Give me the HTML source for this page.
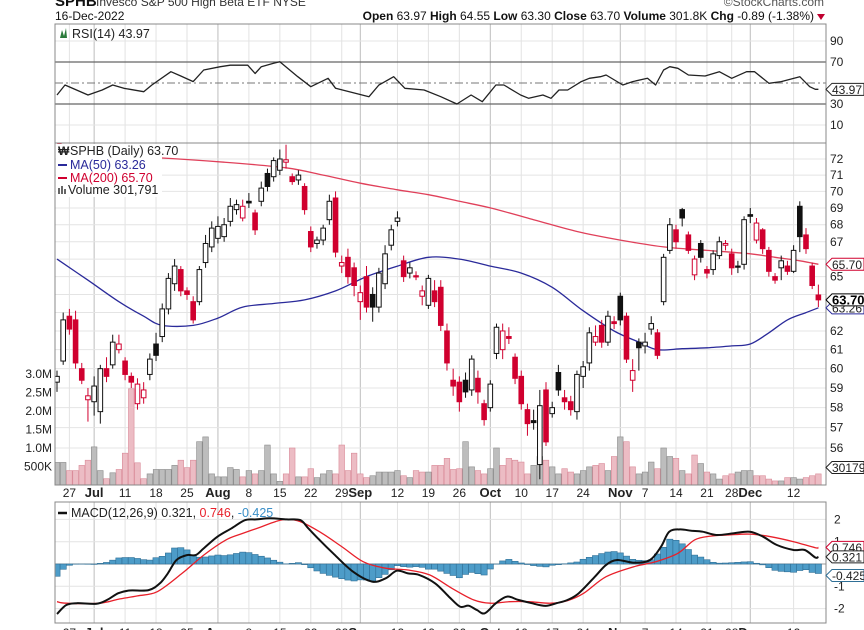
<!DOCTYPE html>
<html><head><meta charset="utf-8"><style>
html,body{margin:0;padding:0;background:#fff;}
svg{display:block;font-family:"Liberation Sans",sans-serif;}
</style></head><body>
<svg id="chart" width="864" height="630" viewBox="0 0 864 630" xmlns="http://www.w3.org/2000/svg">
<defs>
<clipPath id="cpPrice"><rect x="55" y="143" width="771" height="342"/></clipPath>
<clipPath id="cpRsi"><rect x="55" y="24" width="771" height="119"/></clipPath>
<clipPath id="cpMacd"><rect x="55" y="502" width="771" height="121"/></clipPath>
</defs>
<g>
<text x="55" y="6" font-size="15" font-weight="bold" fill="#111">SPHB</text>
<text x="96" y="6" font-size="12" fill="#333">Invesco S&amp;P 500 High Beta ETF   NYSE</text>
<text x="824" y="6" font-size="12" fill="#555" text-anchor="end">©StockCharts.com</text>
</g>
<text x="55" y="20" font-size="12" fill="#111">16-Dec-2022</text>
<text x="814" y="20" font-size="12" fill="#111" text-anchor="end"><tspan font-weight="bold">Open</tspan> 63.97  <tspan font-weight="bold">High</tspan> 64.55  <tspan font-weight="bold">Low</tspan> 63.30  <tspan font-weight="bold">Close</tspan> 63.70  <tspan font-weight="bold">Volume</tspan> 301.8K  <tspan font-weight="bold">Chg</tspan> -0.89 (-1.38%)</text>
<path d="M817 14 L825 14 L821 20 Z" fill="#c0002f"/>
<g id="grid"></g>
<g id="rsiG" clip-path="url(#cpRsi)"></g>
<g id="priceG" clip-path="url(#cpPrice)"></g>
<g id="macdG" clip-path="url(#cpMacd)"></g>
<g id="frames"></g>
<g id="labels"></g>
</svg>
<script>
const NS="http://www.w3.org/2000/svg";
const opens=[59.3,60.4,62.8,62.6,60.0,58.4,58.3,57.8,60.0,60.2,61.0,60.4,59.6,58.2,58.5,59.7,61.3,61.7,63.2,64.6,65.4,64.2,63.6,63.6,65.8,66.7,67.2,67.3,68.2,68.9,68.4,69.4,68.7,69.4,71.1,70.9,71.3,71.8,70.9,70.7,70.3,67.6,66.9,67.1,68.3,69.6,65.6,66.1,65.5,63.6,65.0,64.0,63.3,64.6,66.8,68.2,65.9,65.2,65.05,63.9,63.4,64.2,64.4,62.0,59.4,59.3,59.4,58.9,59.5,58.2,58.0,60.8,61.0,61.7,60.6,59.6,57.9,57.35,55.2,58.9,57.7,59.8,58.5,58.3,57.8,59.6,60.3,61.4,62.3,61.4,62.5,63.9,62.8,59.4,61.4,61.2,62.1,61.9,63.6,66.5,67.7,68.9,67.4,65.1,66.9,65.4,65.4,66.2,66.8,66.3,65.6,65.7,68.6,67.1,67.7,66.5,65.0,65.5,65.6,65.3,69.1,67.4,65.6,63.97];
const closes=[59.6,62.6,62.1,60.3,59.4,58.6,59.1,60.0,59.6,61.4,61.3,59.7,59.3,59.2,58.9,60.5,60.7,63.2,64.9,65.6,64.2,64.0,62.6,65.4,66.9,67.8,67.9,68.0,69.1,69.2,69.1,69.3,67.7,70.2,70.3,71.9,72.0,71.95,70.6,71.0,68.9,66.7,67.1,67.8,69.4,66.4,65.8,65.0,64.5,64.1,63.3,63.3,65.2,66.3,67.7,68.4,65.0,65.5,65.0,64.2,64.9,63.6,62.3,60.3,59.1,58.3,58.8,60.5,58.8,57.4,59.2,62.2,62.0,61.6,59.5,58.2,57.2,57.25,58.1,56.3,58.0,58.9,58.3,57.9,59.7,60.1,61.9,61.7,61.4,62.8,62.4,62.6,60.5,59.9,61.1,61.4,62.4,60.7,66.1,68.0,67.0,68.4,66.5,66.0,66.1,65.2,66.3,67.0,66.9,65.5,65.55,68.3,68.5,68.1,66.6,65.3,64.8,65.9,65.3,66.5,67.3,66.6,64.5,63.70];
const highs=[59.9,63.0,63.2,63.1,60.3,59.0,59.6,60.2,60.6,61.8,61.8,60.6,59.8,59.5,59.3,60.8,61.9,63.5,65.2,66.0,65.6,64.4,63.9,65.6,67.4,68.2,68.5,68.4,69.6,69.5,69.5,69.9,68.9,70.6,71.4,72.1,72.6,72.9,71.1,71.3,70.5,67.9,67.3,68.0,69.8,70.0,66.2,66.6,65.8,64.5,65.6,64.4,65.5,66.8,68.0,68.8,66.2,65.8,65.3,64.5,65.1,64.8,64.8,62.4,60.0,59.6,59.8,60.7,59.9,58.4,59.4,62.4,62.4,62.2,60.8,59.9,58.2,57.9,58.9,59.3,58.3,60.2,58.9,58.6,59.9,60.4,62.2,62.3,62.6,63.1,62.8,64.1,63.0,60.5,61.6,61.9,62.8,62.1,66.3,68.4,68.0,69.0,67.6,66.2,67.1,65.6,66.5,67.3,67.1,66.6,65.9,68.5,69.0,68.4,67.8,66.7,65.2,66.2,65.9,66.8,69.4,67.8,65.8,64.55];
const lows=[58.8,60.2,61.8,60.0,59.2,57.3,57.6,57.2,59.3,60.0,60.8,59.4,59.0,57.9,58.2,59.4,60.4,61.4,62.9,64.2,63.9,63.7,62.4,63.4,65.5,66.4,66.9,67.0,67.9,68.6,68.2,69.0,67.4,69.1,70.0,70.6,71.0,71.4,70.4,70.4,68.6,66.4,66.6,66.8,68.0,66.1,65.2,64.6,63.9,62.6,63.0,62.5,63.0,64.3,66.5,67.9,64.7,64.9,64.8,63.4,63.2,63.3,62.0,59.9,58.6,57.8,58.5,58.6,58.2,57.1,57.8,60.5,60.5,61.3,59.2,57.9,56.6,56.9,54.5,56.1,57.5,58.6,57.9,57.6,57.4,59.0,59.9,61.2,61.1,61.2,62.1,62.3,60.3,58.8,59.9,60.8,61.8,60.5,63.4,66.3,66.6,67.9,66.3,64.8,65.8,64.9,65.1,66.0,66.5,65.1,65.2,65.4,68.1,66.9,66.3,65.0,64.6,64.8,65.1,65.2,66.4,66.3,64.3,63.30];
const volumes=[0.61,0.61,0.39,0.39,0.53,0.67,1.03,0.39,0.17,0.33,0.42,0.86,2.6,0.6,0.17,0.3,0.42,0.42,0.42,0.53,0.67,0.47,0.67,1.17,1.3,0.3,0.22,0.22,0.47,0.42,0.22,0.39,0.3,0.39,1.08,0.3,0.1,0.3,1.0,0.22,0.22,0.44,0.2,0.3,0.39,0.3,1.08,0.39,0.86,0.3,0.2,0.25,0.35,0.35,0.35,0.39,0.25,0.2,0.39,0.35,0.35,0.53,0.53,0.72,0.42,0.44,1.17,0.49,0.39,0.3,0.44,1.0,0.53,0.72,0.67,0.62,0.3,0.53,0.77,0.67,0.49,0.3,0.44,0.35,0.3,0.39,0.49,0.53,0.58,0.39,0.77,1.3,1.17,0.49,0.3,0.35,0.62,0.44,1.0,0.77,0.72,0.39,0.3,0.81,0.58,0.35,0.3,0.16,0.25,0.3,0.35,0.39,0.39,0.25,0.25,0.16,0.11,0.11,0.2,0.2,0.16,0.2,0.25,0.30];
const ma50Idx=[0,5,10,14,17,22,26,30,35,40,45,50,55,60,65,70,75,80,85,90,94,97,101,105,109,112,115,118,121,123];
const ma50Val=[66.0,64.8,63.6,62.8,62.3,62.3,62.7,63.3,63.5,63.7,64.2,65.0,65.6,66.1,66.0,65.6,65.2,64.4,63.1,62.0,61.4,61.0,61.05,61.1,61.2,61.3,61.9,62.6,63.0,63.26];
const ma200Idx=[0,8,17,27,37,43,49,55,60,65,70,77,84,91,98,105,112,116,120,123];
const ma200Val=[73.0,72.2,72.06,71.8,71.45,71.0,70.5,70.1,69.8,69.4,69.0,68.3,67.6,67.1,66.7,66.5,66.3,66.1,65.9,65.70];
const rsiIdx=[0,1.3,5,7.3,9,10.8,14,15.3,18.4,20,22,23.7,26.4,28,30.8,32,33,35,36,38.9,41,43.8,45,50.4,52,54.4,56.2,59.3,62,64.6,66.9,68.7,70.9,72.2,74.9,76.2,78.5,79.8,81.1,82.5,84.7,86,87.8,88.7,91.4,93,95.4,96.7,98,99,100.3,102,104.7,107,109,111.4,112.7,115,117,120,121.6,122.5,123];
const rsiVal=[38.6,48.1,38.6,43.3,48.1,45,41.7,48,60.8,56.7,51.3,62.4,65.5,67,67,59,65.5,68.8,70.3,56,46.5,54.5,45,37,48.1,56,45,43.3,37,30,38.6,32.2,48.1,48.1,38.6,35.4,38.6,35.4,43.3,43.3,51.3,54.5,56,57.6,48.1,51.3,54.5,48.1,62.4,65.5,64,57.6,56.7,60.8,54.5,60.8,60.8,49.7,51.3,56,46.5,44,43.97];
const macdIdx=[0,1.5,3.2,6.4,8.1,9.9,11.7,14.8,16.6,17.9,19.3,21,22.4,23.7,25.9,28.2,30.4,32.2,34.4,37.1,39.3,40.6,42.4,44.6,47.8,50.9,53.1,54.9,56.7,58.5,61.1,63.3,65.1,66.5,67.8,69.1,70.9,72.7,74.5,76.7,78.9,80.7,82.5,84.3,86.9,88.7,90.5,93.2,95.8,97.6,98.9,100.7,102.5,104.3,106.5,109.2,111.9,114.1,116.3,119,120.8,122.5,123];
const macdVal=[-2.24,-1.84,-1.76,-1.78,-1.61,-1.31,-1.19,-1.17,-0.87,-0.42,0.18,0.40,0.40,0.70,1.22,1.60,1.97,2.0,2.05,2.0,1.97,1.60,1.08,0.48,-0.34,-0.79,-0.64,-0.30,-0.42,-0.49,-0.87,-1.46,-1.91,-1.87,-2.06,-2.21,-1.76,-1.46,-1.61,-1.76,-1.88,-1.76,-1.61,-1.31,-0.57,-0.04,0.18,0.06,0.18,0.78,1.45,1.55,1.49,1.45,1.30,1.37,1.45,1.22,0.85,0.63,0.63,0.29,0.321];
const sigIdx=[0,1.5,6.8,9.9,13,16.2,20.2,23.7,27.3,30,32.6,35.3,37.1,39.3,42.4,46,49.5,53.1,56.7,60.2,63.8,67.3,70,73.1,76.2,79.8,82.5,85.1,88.7,93.2,96.7,100.3,103,105.6,108.3,111.9,115.4,119,122.5,123];
const sigVal=[-1.69,-1.76,-1.76,-1.58,-1.43,-1.24,-0.42,0.40,1.08,1.37,1.63,1.90,2.0,1.90,1.45,0.78,0.10,-0.19,-0.27,-0.49,-1.09,-1.61,-1.76,-1.69,-1.69,-1.76,-1.64,-1.31,-0.57,-0.12,0.10,0.48,1.08,1.25,1.30,1.34,1.22,1.00,0.73,0.746];
const dateIdx=[2,6,11,16,21,26,31,36,41,46,49,55,60,65,70,75,80,85,91,95,100,105,109,112,119];
const dateLbl=["27","Jul","11","18","25","Aug","8","15","22","29","Sep","12","19","26","Oct","10","17","24","Nov","7","14","21","28","Dec","12"];
const monthLbl=["Jul","Aug","Sep","Oct","Nov","Dec"];
const priceTicks=[72,71,70,69,68,67,65,62,61,60,59,58,57,56];
const priceGrid=[56,57,58,59,60,61,62,63,64,65,66,67,68,69,70,71,72];
const volTicks=[3.0,2.5,2.0,1.5,1.0,0.5];
const volTickLbl=["3.0M","2.5M","2.0M","1.5M","1.0M","500K"];
const rsiTicks=[90,70,30,10];
const macdTicks=[2,1,-1,-2];

const xi=i=>57+6.19*i;
const py=p=>159+1150*Math.log(72/p);
const vy=v=>485-37*v;
const ry=r=>83-1.05*(r-50);
const my=m=>564-22.3*m;
const RED="#d0002f";
function mk(tag,attrs,parent){const e=document.createElementNS(NS,tag);for(const k in attrs)e.setAttribute(k,attrs[k]);parent.appendChild(e);return e;}
function interp(ix,iv,i){if(i<=ix[0])return iv[0];for(let k=1;k<ix.length;k++){if(i<=ix[k]){const t=(i-ix[k-1])/(ix[k]-ix[k-1]);return iv[k-1]+t*(iv[k]-iv[k-1]);}}return iv[iv.length-1];}
function line(ix,iv,yf,parent,color,w,name,smooth){
  const P=ix.map((v,k)=>[xi(v),yf(iv[k])]);
  let d="M"+P[0][0].toFixed(1)+" "+P[0][1].toFixed(1);
  for(let k=1;k<P.length;k++){
    if(!smooth){d+="L"+P[k][0].toFixed(1)+" "+P[k][1].toFixed(1);continue;}
    const p0=P[Math.max(0,k-2)],p1=P[k-1],p2=P[k],p3=P[Math.min(P.length-1,k+1)];
    const c1=[p1[0]+(p2[0]-p0[0])/6,p1[1]+(p2[1]-p0[1])/6],c2=[p2[0]-(p3[0]-p1[0])/6,p2[1]-(p3[1]-p1[1])/6];
    d+="C"+c1[0].toFixed(1)+" "+c1[1].toFixed(1)+" "+c2[0].toFixed(1)+" "+c2[1].toFixed(1)+" "+p2[0].toFixed(1)+" "+p2[1].toFixed(1);
  }
  const p=mk("path",{d:d,fill:"none",stroke:color,"stroke-width":w,"stroke-linejoin":"round"},parent);
  
  
  return p;
}
const grid=document.getElementById("grid");
dateIdx.forEach((d,k)=>{
  const isM=monthLbl.includes(dateLbl[k]);
  [[24,143],[143,485],[502,623]].forEach(r=>{
    const l=mk("line",{x1:xi(d),x2:xi(d),y1:r[0],y2:r[1],stroke:isM?"#bdbdbd":"#e2e2e2","stroke-width":1},grid);
    
    
  });
});
priceGrid.forEach(p=>{const l=mk("line",{x1:55,x2:826,y1:py(p),y2:py(p),stroke:"#e4e4e4"},grid);
  
  });
[90,10].forEach(r=>{const l=mk("line",{x1:55,x2:826,y1:ry(r),y2:ry(r),stroke:"#e4e4e4"},grid);
  
  });
[2,1,-1,-2].forEach(m=>{const l=mk("line",{x1:55,x2:826,y1:my(m),y2:my(m),stroke:"#e4e4e4"},grid);
  
  });

const rg=document.getElementById("rsiG");
[70,30].forEach(r=>{const l=mk("line",{x1:55,x2:826,y1:ry(r),y2:ry(r),stroke:"#666","stroke-width":1.2},rg);
  
  });
const mid=mk("line",{x1:55,x2:826,y1:ry(50),y2:ry(50),stroke:"#777","stroke-dasharray":"8 3 2 3"},rg);


line(rsiIdx,rsiVal,ry,rg,"#222",1.3,"rsi-line",false);

const pg=document.getElementById("priceG");
volumes.forEach((v,i)=>{
  const up=i===0||closes[i]>=closes[i-1];
  const r=mk("rect",{x:xi(i)-2.8,y:vy(v),width:5.6,height:485-vy(v),fill:up?"#bdbdbd":"#ecbcc4",stroke:up?"#8a8a8a":"#d98a98","stroke-width":0.6},pg);
  
  
});
line(ma200Idx,ma200Val,py,pg,"#e0405a",1.3,"ma200-line",true);
line(ma50Idx,ma50Val,py,pg,"#2a2a9a",1.3,"ma50-line",true);
closes.forEach((c,i)=>{
  const o=opens[i];const down=i>0&&c<closes[i-1];const col=down?RED:"#111";
  const w=mk("line",{x1:xi(i),x2:xi(i),y1:py(highs[i]),y2:py(lows[i]),stroke:col,"stroke-width":1},pg);
  
  
  const top=py(Math.max(o,c)),bot=py(Math.min(o,c));
  const b=mk("rect",{x:xi(i)-2.3,y:top,width:4.6,height:Math.max(1.2,bot-top),fill:c<o?col:"#fff",stroke:col,"stroke-width":1},pg);
  
  
});

const mg=document.getElementById("macdG");
const z=mk("line",{x1:55,x2:826,y1:my(0),y2:my(0),stroke:"#999"},mg);


for(let i=0;i<closes.length;i++){
  const h=interp(macdIdx,macdVal,i)-interp(sigIdx,sigVal,i);
  const y0=my(0),y1=my(h);
  const r=mk("rect",{x:xi(i)-3.1,y:Math.min(y0,y1),width:6.2,height:Math.abs(y1-y0),fill:"#4d9cc8",stroke:"#2f6f96","stroke-width":0.6},mg);
  
  
}
line(sigIdx,sigVal,my,mg,"#e8202a",1.3,"macd-signal-line",true);
line(macdIdx,macdVal,my,mg,"#111",2,"macd-line",true);

const fr=document.getElementById("frames");
[[55,24,771,119,"rsi-panel"],[55,143,771,342,"price-panel"],[55,502,771,121,"macd-panel"]].forEach(a=>{
  const r=mk("rect",{x:a[0],y:a[1],width:a[2],height:a[3],fill:"none",stroke:"#888","stroke-width":1},fr);
  
  
});

const lg=document.getElementById("labels");
function txt(x,y,s,attrs,name){const t=mk("text",Object.assign({x:x,y:y,"font-size":12,fill:"#222"},attrs||{}),lg);t.textContent=s;
  
  return t;}
rsiTicks.forEach(r=>txt(830,ry(r)+4,String(r),{},"rsi-tick-label"));
priceTicks.forEach(p=>txt(830,py(p)+4,String(p),{},"price-tick-label"));
volTicks.forEach((v,k)=>txt(52,vy(v)+4,volTickLbl[k],{"text-anchor":"end"},"volume-tick-label"));
macdTicks.forEach(m=>txt(834,my(m)+4,String(m),{},"macd-tick-label"));
dateIdx.forEach((d,k)=>{
  const b=monthLbl.includes(dateLbl[k]);
  txt(xi(d),497,dateLbl[k],{"text-anchor":"middle","font-weight":b?"bold":"normal","font-size":b?13:12},"date-axis-label");
  txt(xi(d),637,dateLbl[k],{"text-anchor":"middle","font-weight":b?"bold":"normal","font-size":b?13:12},"date-axis-label-bottom");
});
function tag(y,s,color,bold,name){
  const w=bold?36:34;
  const p=mk("path",{d:`M826 ${y} L832 ${y-6} L${832+w-2} ${y-6} L${832+w-2} ${y+6} L832 ${y+6} Z`,fill:"#fff",stroke:color,"stroke-width":1},lg);
  
  
  txt(832,y+4.5,s,{fill:bold?"#000":"#222","font-weight":bold?"bold":"normal","font-size":bold?13:12},name);
}
tag(ry(43.97),"43.97","#222",false,"rsi-value-tag");
tag(py(63.26),"63.26","#2a2a9a",false,"ma50-value-tag");
tag(py(65.70),"65.70",RED,false,"ma200-value-tag");
tag(py(63.70),"63.70","#000",true,"close-value-tag");
tag(vy(0.5)+1,"30179","#222",false,"volume-value-tag");
tag(my(0.746),"0.746",RED,false,"signal-value-tag");
tag(my(0.321),"0.321","#222",false,"macd-value-tag");
tag(my(-0.425)+2,"-0.425","#2f6f96",false,"histogram-value-tag");

const lb=mk("rect",{x:56,y:144,width:106,height:53,fill:"#fff"},lg);


txt(72,38,"RSI(14) 43.97",{"font-size":12.5},"rsi-legend");
const ri=mk("path",{d:"M60 38 L62 30 L64 36 L66 28 L67 38 Z",fill:"#2a7a3a"},lg);


txt(70,155,"SPHB (Daily) 63.70",{"font-size":12.5},"price-legend");
txt(58,155,"₩",{"font-size":12,"font-weight":"bold"},"price-legend-icon");
const l1=mk("line",{x1:58,x2:67,y1:165,y2:165,stroke:"#2a2a9a","stroke-width":2},lg);


txt(70,169,"MA(50) 63.26",{fill:"#2a2a9a","font-size":12.5},"ma50-legend");
const l2=mk("line",{x1:58,x2:67,y1:178,y2:178,stroke:RED,"stroke-width":2},lg);


txt(70,182,"MA(200) 65.70",{fill:RED,"font-size":12.5},"ma200-legend");
const vi=mk("path",{d:"M58 194 v-6 h2 v6 h1 v-8 h2 v8 h1 v-5 h2 v5 Z",fill:"#666"},lg);


txt(68,194,"Volume 301,791",{"font-size":12.5},"volume-legend");
const ml=mk("line",{x1:58,x2:67,y1:513,y2:513,stroke:"#111","stroke-width":2.5},lg);


const mt=txt(71,517,"",{"font-size":12.5},"macd-legend");
mt.innerHTML='MACD(12,26,9) 0.321, <tspan fill="#e8202a">0.746</tspan>, <tspan fill="#3a8fc8">-0.425</tspan>';
</script>
</body></html>
